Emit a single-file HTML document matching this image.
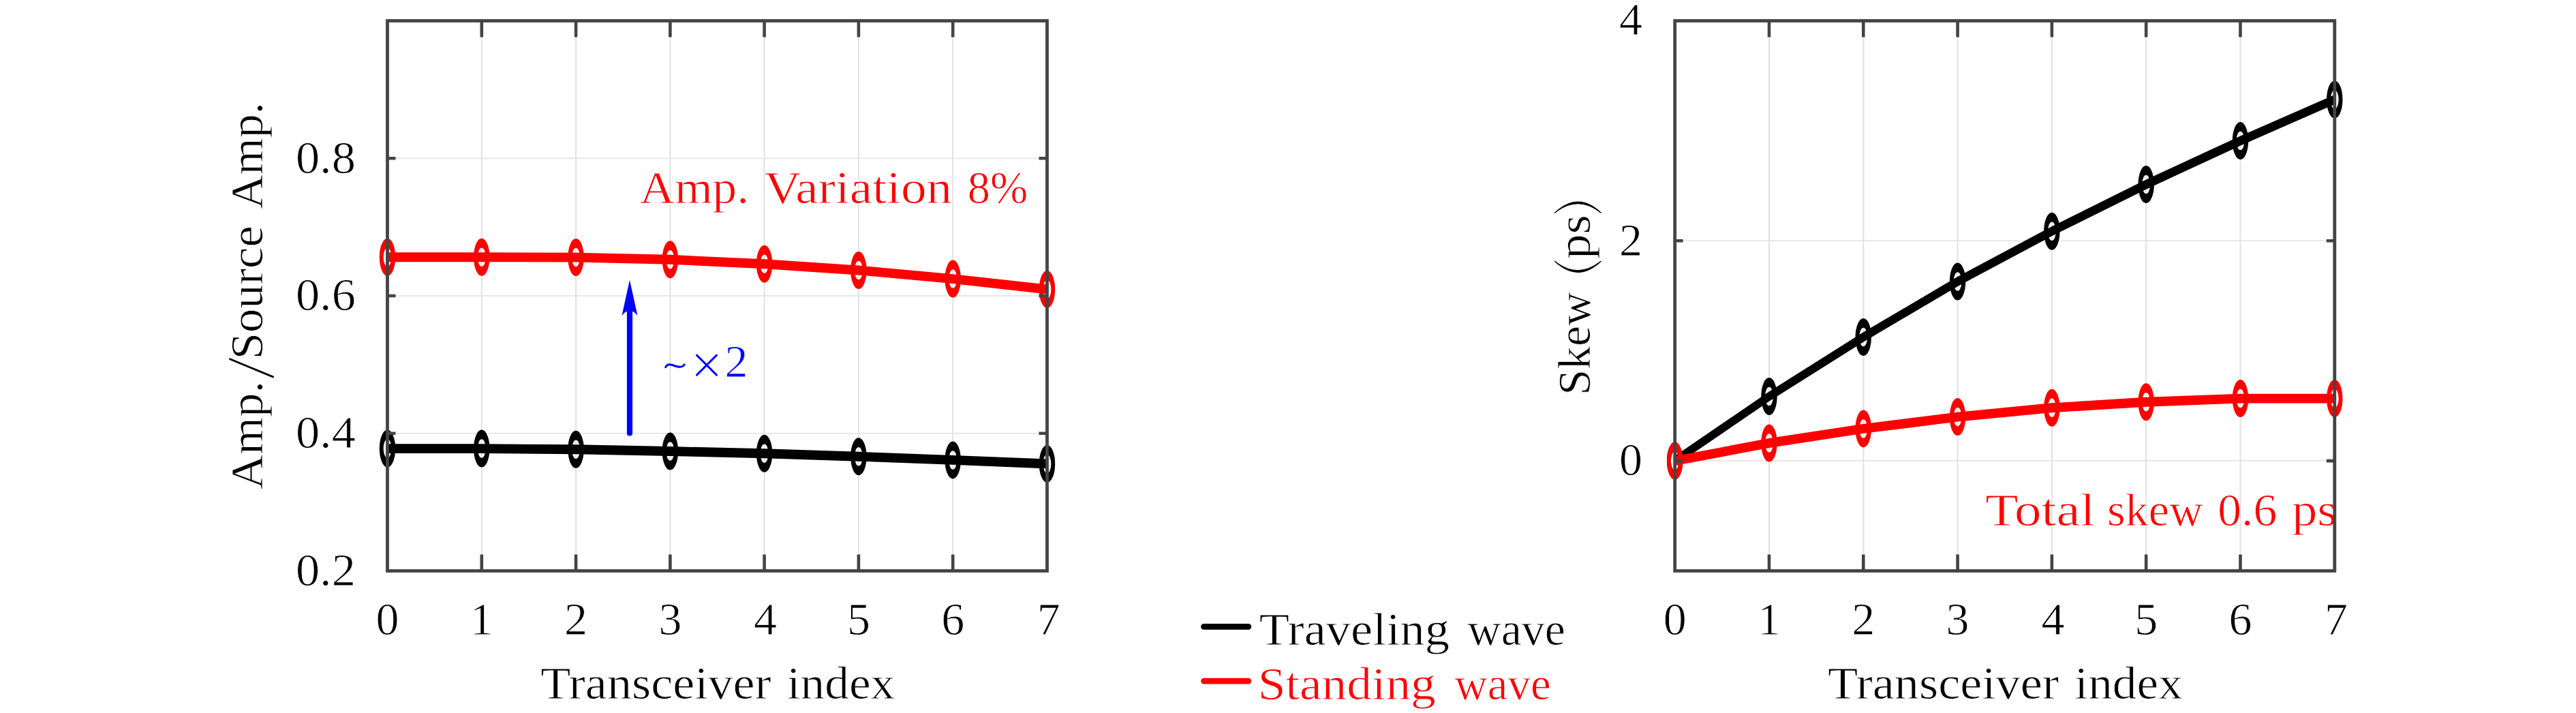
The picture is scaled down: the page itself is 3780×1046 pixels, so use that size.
<!DOCTYPE html>
<html><head><meta charset="utf-8"><title>chart</title>
<style>html,body{margin:0;padding:0;background:#ffffff;}svg{display:block}text{font-family:"Liberation Serif",serif;font-size:68px;stroke:#fff;stroke-width:0.8px}</style>
</head><body>
<svg width="3780" height="1046" viewBox="0 0 3780 1046">
<rect width="3780" height="1046" fill="#ffffff"/>
<path d="M706.8 30.5V837.5M845.1 30.5V837.5M983.4 30.5V837.5M1121.6 30.5V837.5M1259.9 30.5V837.5M1398.2 30.5V837.5" stroke="#e1e1e1" stroke-width="2" fill="none"/>
<path d="M568.5 232.2H1536.5M568.5 434.0H1536.5M568.5 635.8H1536.5" stroke="#e1e1e1" stroke-width="1.5" fill="none"/>
<circle r="8.78" fill="none" stroke="#000000" stroke-width="5.85" transform="translate(568.5 658.1) scale(1 2.35)"/>
<circle r="8.78" fill="none" stroke="#000000" stroke-width="5.85" transform="translate(706.8 658.1) scale(1 2.35)"/>
<circle r="8.78" fill="none" stroke="#000000" stroke-width="5.85" transform="translate(845.1 659.3) scale(1 2.35)"/>
<circle r="8.78" fill="none" stroke="#000000" stroke-width="5.85" transform="translate(983.4 662.0) scale(1 2.35)"/>
<circle r="8.78" fill="none" stroke="#000000" stroke-width="5.85" transform="translate(1121.6 665.3) scale(1 2.35)"/>
<circle r="8.78" fill="none" stroke="#000000" stroke-width="5.85" transform="translate(1259.9 669.8) scale(1 2.35)"/>
<circle r="8.78" fill="none" stroke="#000000" stroke-width="5.85" transform="translate(1398.2 674.9) scale(1 2.35)"/>
<circle r="8.78" fill="none" stroke="#000000" stroke-width="5.85" transform="translate(1536.5 680.4) scale(1 2.35)"/>
<polyline fill="none" stroke="#000000" stroke-width="5.91" stroke-linejoin="round" transform="scale(1 2.35)" points="568.5,280.04 706.8,280.04 845.1,280.55 983.4,281.70 1121.6,283.11 1259.9,285.02 1398.2,287.19 1536.5,289.53"/>
<circle r="8.78" fill="none" stroke="#ff0000" stroke-width="5.85" transform="translate(568.5 377.3) scale(1 2.35)"/>
<circle r="8.78" fill="none" stroke="#ff0000" stroke-width="5.85" transform="translate(706.8 377.3) scale(1 2.35)"/>
<circle r="8.78" fill="none" stroke="#ff0000" stroke-width="5.85" transform="translate(845.1 377.6) scale(1 2.35)"/>
<circle r="8.78" fill="none" stroke="#ff0000" stroke-width="5.85" transform="translate(983.4 380.8) scale(1 2.35)"/>
<circle r="8.78" fill="none" stroke="#ff0000" stroke-width="5.85" transform="translate(1121.6 387.3) scale(1 2.35)"/>
<circle r="8.78" fill="none" stroke="#ff0000" stroke-width="5.85" transform="translate(1259.9 396.5) scale(1 2.35)"/>
<circle r="8.78" fill="none" stroke="#ff0000" stroke-width="5.85" transform="translate(1398.2 409.1) scale(1 2.35)"/>
<circle r="8.78" fill="none" stroke="#ff0000" stroke-width="5.85" transform="translate(1536.5 424.4) scale(1 2.35)"/>
<polyline fill="none" stroke="#ff0000" stroke-width="5.91" stroke-linejoin="round" transform="scale(1 2.35)" points="568.5,160.55 706.8,160.55 845.1,160.68 983.4,162.04 1121.6,164.81 1259.9,168.72 1398.2,174.09 1536.5,180.60"/>
<text x="938.76" y="298.3" fill="#ff0000" textLength="160.20" lengthAdjust="spacingAndGlyphs">Amp.</text>
<text x="1121.38" y="298.3" fill="#ff0000" textLength="275.82" lengthAdjust="spacingAndGlyphs">Variation</text>
<text x="1419.79" y="298.3" fill="#ff0000" textLength="88.41" lengthAdjust="spacingAndGlyphs">8%</text>
<path d="M924 635.4V455" stroke="#0000ff" stroke-width="8.2" stroke-linecap="round" fill="none"/>
<path d="M924 410.8L935.5 463.1Q924 448.5 912.5 463.1Z" fill="#0000ff"/>
<path d="M976.7 538.6C978.5 534.6 982.5 534.2 986 535.3C990 536.6 994 538.4 997.5 538.3C1000.5 538.2 1003 537 1004.1 534.9" stroke="#0000ff" stroke-width="3" fill="none" stroke-linecap="round"/>
<path d="M1022.5 521.1L1051.5 550.1M1051.5 521.1L1022.5 550.1" stroke="#0000ff" stroke-width="2.9" fill="none" stroke-linecap="round"/>
<text x="1063.5" y="552.8" text-anchor="start" fill="#0000ff">2</text>
<path d="M706.8 30.5v24M706.8 837.5v-24M845.1 30.5v24M845.1 837.5v-24M983.4 30.5v24M983.4 837.5v-24M1121.6 30.5v24M1121.6 837.5v-24M1259.9 30.5v24M1259.9 837.5v-24M1398.2 30.5v24M1398.2 837.5v-24M568.5 232.2h12M1536.5 232.2h-12M568.5 434.0h12M1536.5 434.0h-12M568.5 635.8h12M1536.5 635.8h-12" stroke="#444444" stroke-width="4.6" fill="none"/>
<rect x="568.5" y="30.5" width="968.0" height="807.0" fill="none" stroke="#444444" stroke-width="4.8"/>
<path d="M2596.0 30.5V837.5M2734.3 30.5V837.5M2872.6 30.5V837.5M3010.9 30.5V837.5M3149.2 30.5V837.5M3287.5 30.5V837.5" stroke="#e1e1e1" stroke-width="2" fill="none"/>
<path d="M2457.7 353.3H3425.8M2457.7 676.1H3425.8" stroke="#e1e1e1" stroke-width="1.5" fill="none"/>
<circle r="8.78" fill="none" stroke="#000000" stroke-width="5.85" transform="translate(2457.7 676.1) scale(1 2.35)"/>
<circle r="8.78" fill="none" stroke="#000000" stroke-width="5.85" transform="translate(2596.0 581.6) scale(1 2.35)"/>
<circle r="8.78" fill="none" stroke="#000000" stroke-width="5.85" transform="translate(2734.3 494.5) scale(1 2.35)"/>
<circle r="8.78" fill="none" stroke="#000000" stroke-width="5.85" transform="translate(2872.6 413.0) scale(1 2.35)"/>
<circle r="8.78" fill="none" stroke="#000000" stroke-width="5.85" transform="translate(3010.9 339.2) scale(1 2.35)"/>
<circle r="8.78" fill="none" stroke="#000000" stroke-width="5.85" transform="translate(3149.2 270.6) scale(1 2.35)"/>
<circle r="8.78" fill="none" stroke="#000000" stroke-width="5.85" transform="translate(3287.5 206.6) scale(1 2.35)"/>
<circle r="8.78" fill="none" stroke="#000000" stroke-width="5.85" transform="translate(3425.8 146.0) scale(1 2.35)"/>
<polyline fill="none" stroke="#000000" stroke-width="5.91" stroke-linejoin="round" transform="scale(1 2.35)" points="2457.7,287.70 2596.0,247.49 2734.3,210.43 2872.6,175.74 3010.9,144.34 3149.2,115.15 3287.5,87.91 3425.8,62.13"/>
<circle r="8.78" fill="none" stroke="#ff0000" stroke-width="5.85" transform="translate(2457.7 676.1) scale(1 2.35)"/>
<circle r="8.78" fill="none" stroke="#ff0000" stroke-width="5.85" transform="translate(2596.0 650.0) scale(1 2.35)"/>
<circle r="8.78" fill="none" stroke="#ff0000" stroke-width="5.85" transform="translate(2734.3 628.9) scale(1 2.35)"/>
<circle r="8.78" fill="none" stroke="#ff0000" stroke-width="5.85" transform="translate(2872.6 611.6) scale(1 2.35)"/>
<circle r="8.78" fill="none" stroke="#ff0000" stroke-width="5.85" transform="translate(3010.9 598.3) scale(1 2.35)"/>
<circle r="8.78" fill="none" stroke="#ff0000" stroke-width="5.85" transform="translate(3149.2 589.8) scale(1 2.35)"/>
<circle r="8.78" fill="none" stroke="#ff0000" stroke-width="5.85" transform="translate(3287.5 584.6) scale(1 2.35)"/>
<circle r="8.78" fill="none" stroke="#ff0000" stroke-width="5.85" transform="translate(3425.8 584.6) scale(1 2.35)"/>
<polyline fill="none" stroke="#ff0000" stroke-width="5.91" stroke-linejoin="round" transform="scale(1 2.35)" points="2457.7,287.70 2596.0,276.60 2734.3,267.62 2872.6,260.26 3010.9,254.60 3149.2,250.98 3287.5,248.77 3425.8,248.77"/>
<text x="2913.17" y="771.0" fill="#ff0000" textLength="161.29" lengthAdjust="spacingAndGlyphs">Total</text>
<text x="3091.92" y="771.0" fill="#ff0000" textLength="140.89" lengthAdjust="spacingAndGlyphs">skew</text>
<text x="3254.23" y="771.0" fill="#ff0000" textLength="87.13" lengthAdjust="spacingAndGlyphs">0.6</text>
<text x="3363.28" y="771.0" fill="#ff0000" textLength="65.93" lengthAdjust="spacingAndGlyphs">ps</text>
<path d="M2596.0 30.5v24M2596.0 837.5v-24M2734.3 30.5v24M2734.3 837.5v-24M2872.6 30.5v24M2872.6 837.5v-24M3010.9 30.5v24M3010.9 837.5v-24M3149.2 30.5v24M3149.2 837.5v-24M3287.5 30.5v24M3287.5 837.5v-24M2457.7 353.3h12M3425.8 353.3h-12M2457.7 676.1h12M3425.8 676.1h-12" stroke="#444444" stroke-width="4.6" fill="none"/>
<rect x="2457.7" y="30.5" width="968.1" height="807.0" fill="none" stroke="#444444" stroke-width="4.8"/>
<text x="568.5" y="930.8" text-anchor="middle" fill="#000">0</text>
<text x="706.8" y="930.8" text-anchor="middle" fill="#000">1</text>
<text x="845.1" y="930.8" text-anchor="middle" fill="#000">2</text>
<text x="983.4" y="930.8" text-anchor="middle" fill="#000">3</text>
<text x="1123.1" y="930.8" text-anchor="middle" fill="#000">4</text>
<text x="1259.9" y="930.8" text-anchor="middle" fill="#000">5</text>
<text x="1398.2" y="930.8" text-anchor="middle" fill="#000">6</text>
<text x="1538.8" y="930.8" text-anchor="middle" fill="#000">7</text>
<text x="2457.7" y="930.8" text-anchor="middle" fill="#000">0</text>
<text x="2596.0" y="930.8" text-anchor="middle" fill="#000">1</text>
<text x="2734.3" y="930.8" text-anchor="middle" fill="#000">2</text>
<text x="2872.6" y="930.8" text-anchor="middle" fill="#000">3</text>
<text x="3012.4" y="930.8" text-anchor="middle" fill="#000">4</text>
<text x="3149.2" y="930.8" text-anchor="middle" fill="#000">5</text>
<text x="3287.5" y="930.8" text-anchor="middle" fill="#000">6</text>
<text x="3428.1" y="930.8" text-anchor="middle" fill="#000">7</text>
<text x="433.9" y="253.7" text-anchor="start" fill="#000" textLength="88.0" lengthAdjust="spacingAndGlyphs">0.8</text>
<text x="433.9" y="455.4" text-anchor="start" fill="#000" textLength="88.0" lengthAdjust="spacingAndGlyphs">0.6</text>
<text x="433.9" y="657.1" text-anchor="start" fill="#000" textLength="88.0" lengthAdjust="spacingAndGlyphs">0.4</text>
<text x="433.9" y="858.9" text-anchor="start" fill="#000" textLength="88.0" lengthAdjust="spacingAndGlyphs">0.2</text>
<text x="2410.0" y="50.9" text-anchor="end" fill="#000">4</text>
<text x="2410.0" y="374.5" text-anchor="end" fill="#000">2</text>
<text x="2410.0" y="697.3" text-anchor="end" fill="#000">0</text>
<text x="793.18" y="1025.1" fill="#000" textLength="338.43" lengthAdjust="spacingAndGlyphs">Transceiver</text>
<text x="1154.77" y="1025.1" fill="#000" textLength="158.48" lengthAdjust="spacingAndGlyphs">index</text>
<text x="2681.98" y="1025.1" fill="#000" textLength="339.03" lengthAdjust="spacingAndGlyphs">Transceiver</text>
<text x="3044.35" y="1025.1" fill="#000" textLength="158.49" lengthAdjust="spacingAndGlyphs">index</text>
<text transform="translate(385.2 718.04) rotate(-90)" fill="#000" textLength="159.24" lengthAdjust="spacingAndGlyphs">Amp.</text>
<text transform="translate(385.2 306.86) rotate(-90)" fill="#000" textLength="156.84" lengthAdjust="spacingAndGlyphs">Amp.</text>
<text transform="translate(385.2 527.21) rotate(-90)" fill="#000" textLength="195.92" lengthAdjust="spacingAndGlyphs">Source</text>
<text transform="translate(2333.0 579.79) rotate(-90)" fill="#000" textLength="151.22" lengthAdjust="spacingAndGlyphs">Skew</text>
<text transform="translate(2333.0 379.90) rotate(-90)" fill="#000" textLength="64.94" lengthAdjust="spacingAndGlyphs">ps</text>
<path d="M400.6 552.9L337.4 526.7" stroke="#000" stroke-width="2.8" stroke-linecap="round"/>
<path d="M2281.5 383.3Q2315.3 415.3 2349.2 383.3Q2315.3 410.3 2281.5 383.3ZM2281.5 312.2Q2315.3 280.2 2349.2 312.2Q2315.3 285.2 2281.5 312.2Z" fill="#000" stroke="#000" stroke-width="1.2" stroke-linejoin="round"/>
<path d="M1766.5 919.4H1831.9" stroke="#000" stroke-width="8.6" stroke-linecap="round"/>
<path d="M1766.5 999.1H1831.9" stroke="#ff0000" stroke-width="8.6" stroke-linecap="round"/>
<text x="1847.78" y="945.8" fill="#000" textLength="279.26" lengthAdjust="spacingAndGlyphs">Traveling</text>
<text x="2153.58" y="945.8" fill="#000" textLength="143.48" lengthAdjust="spacingAndGlyphs">wave</text>
<text x="1845.68" y="1025.5" fill="#ff0000" textLength="261.17" lengthAdjust="spacingAndGlyphs">Standing</text>
<text x="2134.39" y="1025.5" fill="#ff0000" textLength="141.24" lengthAdjust="spacingAndGlyphs">wave</text>
</svg></body></html>
